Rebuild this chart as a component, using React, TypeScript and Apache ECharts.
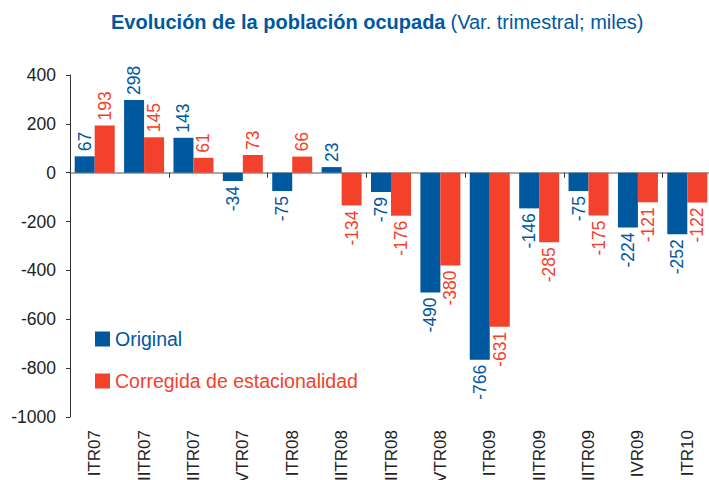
import React, { useEffect, useRef } from "react";
import * as echarts from "echarts";

const categories = ["ITR07", "IITR07", "IIITR07", "IVTR07", "ITR08", "IITR08", "IIITR08", "IVTR08", "ITR09", "IITR09", "IIITR09", "IVR09", "ITR10"];
const original = [67, 298, 143, -34, -75, 23, -79, -490, -766, -146, -75, -224, -252];
const corregida = [193, 145, 61, 73, 66, -134, -176, -380, -631, -285, -175, -121, -122];
const seriesNames = ["Original", "Corregida de estacionalidad"];
const yMin = -1000;
const yMax = 400;
const yInterval = 200;

const BLUE = "#00589f";
const RED = "#f4412b";
const FONT = "'Liberation Sans', Arial, Helvetica, sans-serif";

function makeData(values: number[], color: string) {
  return values.map((v) => ({
    value: v,
    label: {
      show: true,
      position: v >= 0 ? "top" : "bottom",
      rotate: 90,
      align: v >= 0 ? "left" : "right",
      verticalAlign: "middle",
      distance: 5,
      color,
      fontSize: 17.5,
      fontFamily: FONT,
    },
  }));
}

export default function App() {
  const ref = useRef<HTMLDivElement>(null);
  useEffect(() => {
    if (!ref.current) return;
    const chart = echarts.init(ref.current, undefined, { renderer: "svg" });
    chart.setOption({
      animation: false,
      backgroundColor: "#ffffff",
      title: {
        left: 106,
        top: 7,
        text: "{b|Evolución de la población ocupada} {n|(Var. trimestral; miles)}",
        textStyle: {
          rich: {
            b: { fontSize: 20, fontWeight: "bold", color: BLUE, fontFamily: FONT },
            n: { fontSize: 20, fontWeight: "normal", color: BLUE, fontFamily: FONT },
          },
        },
      },
      legend: {
        orient: "vertical",
        left: 90,
        top: 324,
        itemWidth: 15,
        itemHeight: 15,
        itemGap: 22,
        icon: "rect",
        data: [
          { name: seriesNames[0], textStyle: { color: BLUE } },
          { name: seriesNames[1], textStyle: { color: RED } },
        ],
        textStyle: { fontSize: 19.5, fontFamily: FONT },
        itemStyle: { borderWidth: 0 },
      },
      grid: { left: 70, right: -3, top: 75, bottom: 63, containLabel: false, outerBoundsMode: "none" },
      xAxis: [
        {
          type: "category",
          data: categories,
          position: "bottom",
          axisLine: { onZero: true, lineStyle: { color: "#8c8c8c", width: 1.5 } },
          axisTick: { show: true, length: 5, lineStyle: { color: "#333333" } },
          axisLabel: { show: false },
          splitLine: { show: false },
        },
        {
          type: "category",
          data: categories,
          position: "bottom",
          axisLine: { show: false, onZero: false },
          axisTick: { show: false },
          axisLabel: {
            show: true,
            rotate: 90,
            margin: 13,
            fontSize: 17,
            color: "#222222",
            fontFamily: FONT,
            interval: 0,
          },
          splitLine: { show: false },
        },
      ],
      yAxis: {
        type: "value",
        min: yMin,
        max: yMax,
        interval: yInterval,
        axisLine: { show: true, lineStyle: { color: "#333333" } },
        axisTick: { show: true, length: 4, lineStyle: { color: "#333333" } },
        axisLabel: {
          fontSize: 17.5,
          color: "#222222",
          fontFamily: FONT,
          margin: 14,
          formatter: (v: number) => String(v),
        },
        splitLine: { show: false },
      },
      series: [
        {
          name: seriesNames[0],
          type: "bar",
          xAxisIndex: 0,
          barWidth: 20,
          barGap: "0%",
          itemStyle: { color: BLUE },
          data: makeData(original, BLUE),
        },
        {
          name: seriesNames[1],
          type: "bar",
          xAxisIndex: 0,
          barWidth: 20,
          barGap: "0%",
          itemStyle: { color: RED },
          data: makeData(corregida, RED),
        },
      ],
    });
    return () => chart.dispose();
  }, []);
  return <div ref={ref} style={{ width: 709, height: 480, position: "absolute", left: 0, top: 0 }} />;
}
